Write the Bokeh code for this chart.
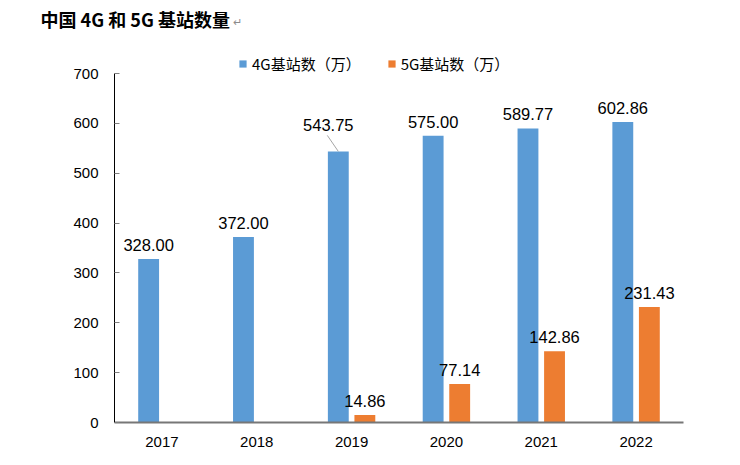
import numpy as np
from bokeh.plotting import figure
from bokeh.layouts import column
from bokeh.models import ColumnDataSource, Range1d, FixedTicker, Legend, LegendItem
from bokeh.core.properties import value
from bokeh.embed import file_html
from bokeh.resources import INLINE

# ---- data ----
years = ["2017", "2018", "2019", "2020", "2021", "2022"]
g4 = [328.00, 372.00, 543.75, 575.00, 589.77, 602.86]
g5 = [None, None, 14.86, 77.14, 142.86, 231.43]
series_names = ["4G基站数（万）", "5G基站数（万）"]
title_text = "中国 4G 和 5G 基站数量"
y_ticks = [0, 100, 200, 300, 400, 500, 600, 700]

BLUE = "#5B9BD5"
ORANGE = "#ED7D31"
NUM_FONT = "Liberation Sans"
CJK_FONT = "Noto Sans CJK SC"

n = len(years)
centers = np.arange(n) + 0.5
off = 0.14
bw = 0.22

g4a = np.array(g4, dtype=float)
g5a = np.array([np.nan if v is None else v for v in g5], dtype=float)

W = 724
TH = 40           # title strip height
H = 449 - TH      # main figure height

# ---- title strip ----
t = figure(width=W, height=TH, output_backend="svg", toolbar_location=None,
           x_range=Range1d(0, W), y_range=Range1d(0, TH),
           x_axis_type=None, y_axis_type=None, min_border=0)
t.frame_align = False
t.outline_line_color = None
t.background_fill_color = "white"
t.border_fill_color = "white"
t.text(x=[40], y=[TH - 18], text=[title_text], text_font=value(CJK_FONT),
       text_font_size="18px", text_font_style="bold", text_color="black",
       text_align="left", text_baseline="middle")
t.text(x=[232], y=[TH - 20], text=["↵"], text_font=value(CJK_FONT),
       text_font_size="11px", text_color="#8c8c8c",
       text_align="left", text_baseline="middle")

# ---- main chart ----
FL, FR = 114, 683          # frame left / right (px)
FT, FB = 50 - TH, 422 - TH  # frame top / bottom within this figure
Y_TOP_PX = 73 - TH          # pixel of y = 700
y_per_px = 700.0 / (FB - Y_TOP_PX)
y_end = 700 + (Y_TOP_PX - FT) * y_per_px

p = figure(width=W, height=H, output_backend="svg", toolbar_location=None,
           x_range=Range1d(0, n), y_range=Range1d(0, y_end),
           min_border_left=FL, min_border_right=W - FR,
           min_border_top=FT, min_border_bottom=H - FB)
p.frame_align = False
p.outline_line_color = None
p.xgrid.visible = False
p.ygrid.visible = False
p.background_fill_color = "white"
p.border_fill_color = "white"

src4 = ColumnDataSource(dict(x=centers - off, top=g4a))
src5 = ColumnDataSource(dict(x=centers + off, top=g5a))
r4 = p.vbar(x="x", top="top", width=bw, source=src4, fill_color=BLUE, line_color=None)
r5 = p.vbar(x="x", top="top", width=bw, source=src5, fill_color=ORANGE, line_color=None)

# value labels
LBL_OFF = -14
special = 2  # 2019 4G label is displaced with a leader line
m5 = ~np.isnan(g5a)
lab4_idx = [i for i in range(n) if i != special]
p.text(x=[centers[i] - off for i in lab4_idx], y=[g4a[i] for i in lab4_idx],
       text=[f"{g4a[i]:.2f}" for i in lab4_idx],
       text_font=value(NUM_FONT), text_font_size="16.5px", text_color="black",
       text_align="center", text_baseline="alphabetic", y_offset=LBL_OFF)
lab5_idx = [i for i in range(n) if m5[i]]
p.text(x=[centers[i] + off for i in lab5_idx], y=[g5a[i] for i in lab5_idx],
       text=[f"{g5a[i]:.2f}" for i in lab5_idx],
       text_font=value(NUM_FONT), text_font_size="16.5px", text_color="black",
       text_align="center", text_baseline="alphabetic", y_offset=LBL_OFF)

px_x = n / float(FR - FL)   # data units per pixel (x)
sx0 = centers[special] - off
sy0 = g4a[special]
p.segment(x0=[sx0], y0=[sy0], x1=[sx0 - 11 * px_x], y1=[sy0 + 16 * y_per_px],
          line_color="#A6A6A6", line_width=1)
p.text(x=[sx0], y=[sy0], text=[f"{g4a[special]:.2f}"],
       text_font=value(NUM_FONT), text_font_size="16.5px", text_color="black",
       text_align="center", text_baseline="alphabetic", x_offset=-10, y_offset=-26)

# axes
xa = p.xaxis[0]
xa.ticker = FixedTicker(ticks=list(centers))
xa.major_label_overrides = {float(c): y for c, y in zip(centers, years)}
xa.major_tick_line_color = None
xa.minor_tick_line_color = None
xa.axis_line_color = "#777777"
xa.axis_line_width = 2
xa.major_label_text_font = NUM_FONT
xa.major_label_text_font_size = "15px"
xa.major_label_text_color = "black"
xa.major_label_standoff = 8

ya = p.yaxis[0]
ya.ticker = FixedTicker(ticks=y_ticks)
ya.bounds = (0, 700)
ya.axis_line_color = "black"
ya.axis_line_width = 1
ya.major_tick_line_color = "#808080"
ya.major_tick_in = 5
ya.major_tick_out = 0
ya.minor_tick_line_color = None
ya.major_label_text_font = NUM_FONT
ya.major_label_text_font_size = "15px"
ya.major_label_text_color = "black"
ya.major_label_standoff = 16

# legend (inside the extended frame, above y = 700)
legend = Legend(items=[LegendItem(label=series_names[0], renderers=[r4]),
                       LegendItem(label=series_names[1], renderers=[r5])],
                orientation="horizontal", location=(238 - FL, (422 - 74)),
                glyph_width=9, glyph_height=9, label_standoff=5, spacing=26,
                label_text_font=CJK_FONT, label_text_font_size="15px",
                label_text_color="black", border_line_color=None,
                background_fill_alpha=0, padding=0, margin=0)
p.add_layout(legend, "center")

layout = column(t, p, spacing=0)
open("out.html", "w").write(file_html(layout, INLINE))
